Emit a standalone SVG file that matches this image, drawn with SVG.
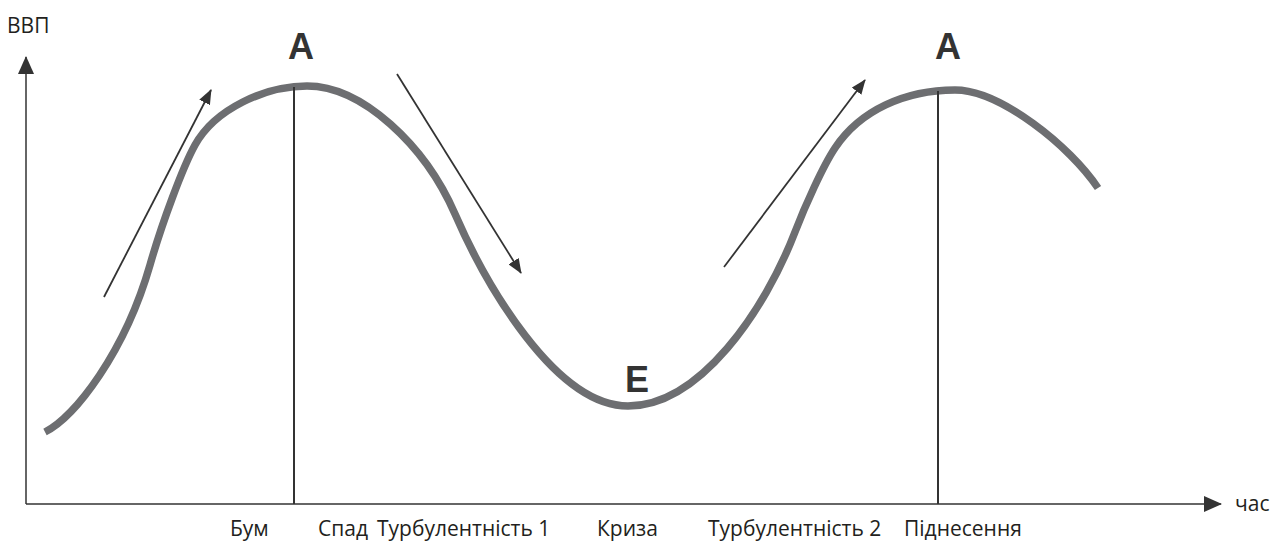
<svg xmlns="http://www.w3.org/2000/svg" width="1279" height="542" viewBox="0 0 1279 542">
<style>
.lbl{font-family:"Open Sans","Liberation Sans",sans-serif;font-size:21px;fill:#231f20}
.big{font-family:"Liberation Sans",Arial,sans-serif;font-weight:bold;font-size:36px;fill:#333}
.ax{stroke:#333;stroke-width:1.5;fill:none}
.vl{stroke:#333;stroke-width:2;fill:none}
.arr{stroke:#333;stroke-width:1.8;fill:none}
</style>
<defs>
<marker id="ah" viewBox="0 0 15 12" refX="14" refY="6" markerWidth="15" markerHeight="12" markerUnits="userSpaceOnUse" orient="auto"><path d="M0,0 L15,6 L0,12 Z" fill="#333"/></marker>
<marker id="axh" viewBox="0 0 18 16" refX="17" refY="8" markerWidth="18" markerHeight="16" markerUnits="userSpaceOnUse" orient="auto"><path d="M0,0 L18,8 L0,16 Z" fill="#333"/></marker>
</defs>
<g id="axes">
<path class="ax" d="M26,504 L26,57" marker-end="url(#axh)"/>
<path class="ax" d="M26,504 L1221,504" marker-end="url(#axh)"/>
<text class="lbl" x="7" y="33">ВВП</text>
<text class="lbl" x="1235" y="511">час</text>
</g>
<g id="curve">
<path d="M45,432 C75,417 125,352 150,265 C162,223 183,166.6 195,145 C215,109 265,86 307,86 C362,86 425,145 455,214 C485,283 555,406 628,406 C700,406 765,310 795,232 C805,206 823,166 835,148 C860,110.5 905,90 955,90 C1000,90 1070,146 1098,188" fill="none" stroke="#6d6e71" stroke-width="7.5"/>
</g>
<g id="peak1">
<line x1="294" y1="87" x2="294" y2="504" class="vl"/>
<text class="big" x="301" y="59" text-anchor="middle">A</text>
</g>
<g id="peak2">
<line x1="938" y1="91" x2="938" y2="504" class="vl"/>
<text class="big" x="948" y="59" text-anchor="middle">A</text>
</g>
<g id="trough">
<text class="big" x="637" y="392" text-anchor="middle">E</text>
</g>
<g id="connectors">
<path class="arr" d="M104,297 L211,90" marker-end="url(#ah)"/>
<path class="arr" d="M397,74 L521,273" marker-end="url(#ah)"/>
<path class="arr" d="M724,267 L865,80" marker-end="url(#ah)"/>
</g>
<g id="labels">
<text class="lbl" x="230" y="536">Бум</text>
<text class="lbl" x="318" y="536">Спад</text>
<text class="lbl" x="377" y="536">Турбулентність 1</text>
<text class="lbl" x="597" y="536">Криза</text>
<text class="lbl" x="708" y="536">Турбулентність 2</text>
<text class="lbl" x="904" y="536">Піднесення</text>
</g>
</svg>
